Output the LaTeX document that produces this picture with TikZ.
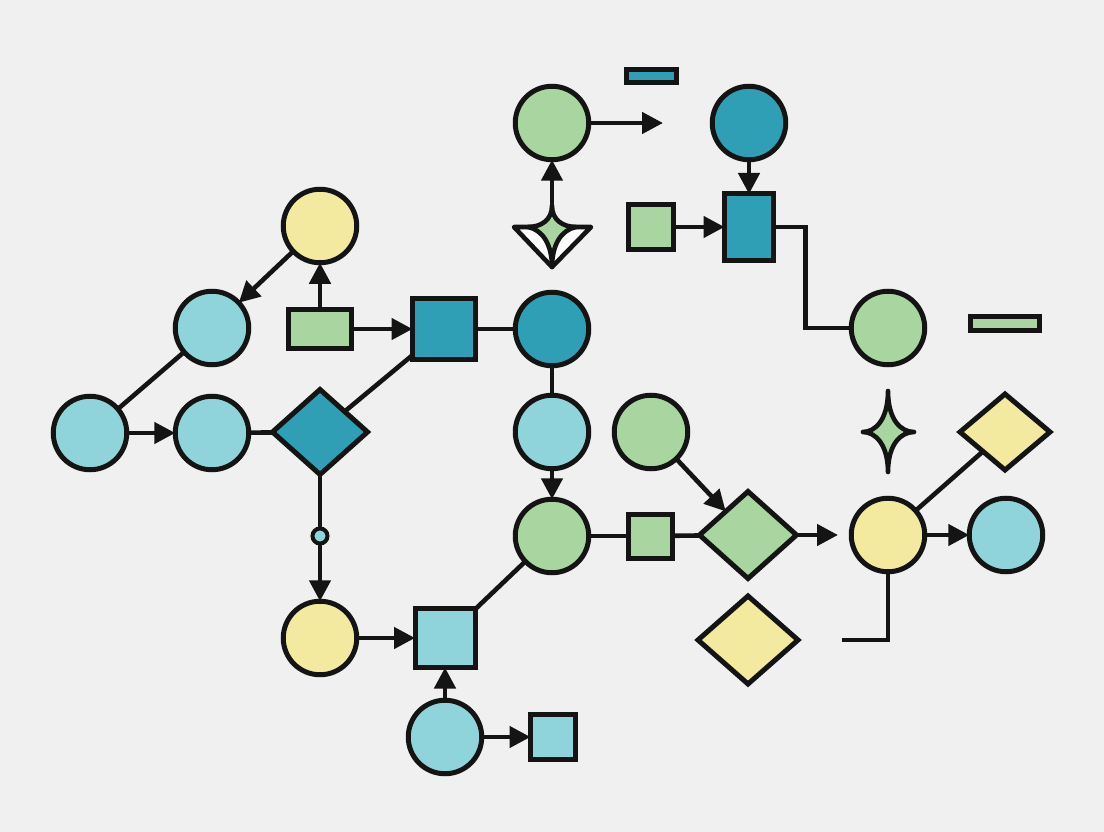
\documentclass[tikz,border=0pt]{standalone}
\usetikzlibrary{arrows.meta,shapes.geometric}
\definecolor{bg}{HTML}{F0F0F0}
\definecolor{lcyan}{HTML}{8FD4DA}
\definecolor{dteal}{HTML}{2E9FB4}
\definecolor{lgreen}{HTML}{A9D6A0}
\definecolor{lyellow}{HTML}{F3EA9F}
\definecolor{ink}{HTML}{141414}
\begin{document}
\begin{tikzpicture}[x=1pt,y=-1pt,line width=5pt,
  shp/.style={draw=ink,line width=5pt,inner sep=0pt,outer sep=0pt},
  circ/.style={shp,circle,minimum size=73.5pt},
  box/.style={shp,rectangle},
  dia/.style={shp,diamond},
  arr/.style={draw=ink,line width=4.6pt,-{Triangle[length=21pt,width=21pt]}},
  con/.style={draw=ink,line width=4.6pt}]
\fill[bg] (0,0) rectangle (1104,832);
\useasboundingbox (0,0) rectangle (1104,832);
% left cluster
\node[circ,fill=lcyan] (A) at (90,433) {};
\node[circ,fill=lcyan] (B) at (212,433) {};
\node[circ,fill=lcyan] (C) at (212,328) {};
\node[circ,fill=lyellow] (D) at (320,226) {};
\node[box,fill=lgreen,minimum width=63pt,minimum height=39pt] (E) at (320,329) {};
\node[box,fill=dteal,minimum width=63pt,minimum height=61pt] (F) at (444,329) {};
\node[dia,fill=dteal,minimum width=95pt,minimum height=85pt] (G) at (320,432) {};
\node[shp,circle,fill=lcyan,line width=4pt,minimum size=15pt] (H) at (320,536) {};
\node[circ,fill=lyellow] (I) at (320,638) {};
\node[box,fill=lcyan,minimum width=60pt,minimum height=59pt] (J) at (445,638) {};
\node[circ,fill=lcyan] (K) at (445,737) {};
\node[box,fill=lcyan,minimum width=45pt,minimum height=45pt] (L) at (553,737) {};
% middle column
\node[circ,fill=dteal] (M) at (552,329) {};
\node[circ,fill=lcyan] (N) at (552,432) {};
\node[circ,fill=lgreen] (O) at (552,536) {};
\node[box,fill=lgreen,minimum width=44pt,minimum height=44pt] (P) at (650,536) {};
\node[dia,fill=lgreen,minimum width=97pt,minimum height=87pt] (Q) at (748,535) {};
\node[circ,fill=lgreen] (R) at (651,432) {};
\node[dia,fill=lyellow,minimum width=100pt,minimum height=88pt] (S) at (748,640) {};
% right cluster
\node[circ,fill=lyellow] (T) at (888,535) {};
\node[circ,fill=lcyan] (U) at (1006,535) {};
\node[dia,fill=lyellow,minimum width=90pt,minimum height=76pt] (V) at (1005,432) {};
\node[circ,fill=lgreen] (X) at (888,328) {};
\node[box,fill=lgreen,minimum width=69pt,minimum height=14pt] (Y) at (1005,323) {};
% top cluster
\node[circ,fill=lgreen] (Z) at (552,123) {};
\node[box,fill=dteal,minimum width=50pt,minimum height=13pt] (TB) at (651,76) {};
\node[box,fill=lgreen,minimum width=45pt,minimum height=45pt] (GS) at (651,227) {};
\node[circ,fill=dteal] (TC) at (749,123) {};
\node[box,fill=dteal,minimum width=49pt,minimum height=66pt] (TR) at (749,227) {};
% stars
\filldraw[fill=white,draw=ink,line width=4.6pt,line join=round] (514,227) -- (591,227) -- (552,267) -- cycle;
\filldraw[fill=lgreen,draw=ink,line width=4.6pt,line join=round]
  (552,206) .. controls (552,220) and (541,227) .. (528,227)
  .. controls (543,230) and (552,245) .. (552,267)
  .. controls (552,245) and (561,230) .. (576,227)
  .. controls (563,227) and (552,220) .. (552,206) -- cycle;
\coordinate (ST) at (552,206);
\filldraw[fill=lgreen,draw=ink,line width=4.6pt,line join=round]
  (888,391) .. controls (888,420) and (875,432) .. (863,432)
  .. controls (875,432) and (888,444) .. (888,472)
  .. controls (888,444) and (901,432) .. (914,432)
  .. controls (901,432) and (888,420) .. (888,391) -- cycle;
% free ends
\coordinate (Zend) at (663,123);
\coordinate (Qend) at (838,535);
\coordinate (Tend) at (842,640);
% connectors
\draw[arr] (A) -- (B);
\draw[con] (A) -- (C);
\draw[arr] (D) -- (C);
\draw[arr] (E) -- (D);
\draw[arr] (E) -- (F);
\draw[con] (B) -- (G);
\draw[con] (G) -- (F);
\draw[con] (F) -- (M);
\draw[con] (M) -- (N);
\draw[arr] (N) -- (O);
\draw[con] (G) -- (H);
\draw[arr] (H) -- (I);
\draw[arr] (I) -- (J);
\draw[arr] (K) -- (J);
\draw[arr] (K) -- (L);
\draw[con] (J) -- (O);
\draw[con] (O) -- (P);
\draw[con] (P) -- (Q);
\draw[arr] (R) -- (Q);
\draw[arr] (Q) -- (Qend);
\draw[arr] (T) -- (U);
\draw[con] (T) -- (V);
\draw[con] (T.south) |- (Tend);
\draw[arr] (ST) -- (Z.south);
\draw[arr] (Z) -- (Zend);
\draw[arr] (TC) -- (TR);
\draw[arr] (GS) -- (TR);
\draw[con] (TR.east) -- ++(32,0) |- (X.west);
\end{tikzpicture}
\end{document}
